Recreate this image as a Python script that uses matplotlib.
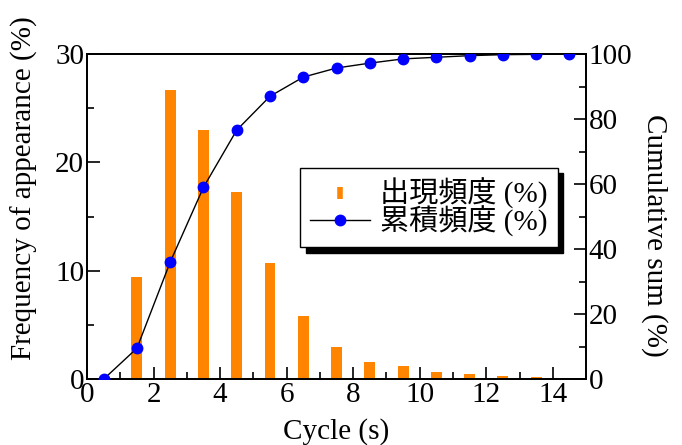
import matplotlib.pyplot as plt
from matplotlib.lines import Line2D
from matplotlib.ticker import MultipleLocator

# data
cycle = [0.5, 1.5, 2.5, 3.5, 4.5, 5.5, 6.5, 7.5, 8.5, 9.5, 10.5, 11.5, 12.5, 13.5, 14.5]
freq = [0.0, 9.4, 26.7, 23.0, 17.3, 10.7, 5.8, 2.95, 1.57, 1.2, 0.65, 0.5, 0.33, 0.2, 0.15]
cumsum = [0.0, 9.5, 36.0, 59.0, 76.6, 87.0, 92.9, 95.7, 97.2, 98.5, 99.0, 99.5, 99.8, 99.9, 100.0]

plt.rcParams["font.family"] = ["Liberation Serif", "Noto Sans CJK JP"]

orange = "#ff8400"
blue = "#0000ff"
fs = 21

fig = plt.figure(figsize=(6.82, 4.45), dpi=100)
ax = fig.add_axes([0.1276, 0.148, 0.7317, 0.7306])
ax2 = ax.twinx()

ax.bar(cycle[1:], freq[1:], width=0.33, color=orange, zorder=2)
ax2.plot(cycle, cumsum, color="k", lw=1, marker="o", ms=7.5,
         mfc=blue, mec=blue, zorder=3)

ax.set_xlim(0, 15)
ax.set_ylim(0, 30)
ax2.set_ylim(0, 100)

ax.xaxis.set_major_locator(MultipleLocator(2))
ax.xaxis.set_minor_locator(MultipleLocator(1))
ax.yaxis.set_major_locator(MultipleLocator(10))
ax.yaxis.set_minor_locator(MultipleLocator(5))
ax2.yaxis.set_major_locator(MultipleLocator(20))
ax2.yaxis.set_minor_locator(MultipleLocator(10))

for a in (ax, ax2):
    a.tick_params(which="both", direction="in", labelsize=fs, width=1.2, pad=2)
    a.tick_params(which="major", length=9)
    a.tick_params(which="minor", length=5)
    for s in a.spines.values():
        s.set_linewidth(1.3)
ax.tick_params(top=False, right=False, which="both")
ax2.tick_params(which="both", right=True, left=False)

ax.set_xlabel("Cycle (s)", fontsize=fs, labelpad=7)
ax.set_ylabel("Frequency of appearance (%)", fontsize=fs)
ax.yaxis.set_label_coords(-0.098, 0.588)
ax2.set_ylabel("Cumulative sum (%)", fontsize=fs, rotation=270, va="bottom")
ax2.yaxis.set_label_coords(1.11, 0.443)

handles = [
    Line2D([], [], ls="none", marker="|", ms=9, mew=4, color=orange),
    Line2D([], [], color="k", lw=1, marker="o", ms=7.5, mfc=blue, mec=blue),
]
labels = ["出現頻度 (%)", "累積頻度 (%)"]
leg = ax2.legend(handles, labels, loc="upper left", bbox_to_anchor=(0.427, 0.65),
                 fontsize=fs, frameon=True, fancybox=False, edgecolor="k",
                 framealpha=1, shadow={"color": "black", "alpha": 1, "ox": 4, "oy": -4},
                 handlelength=2.05, handletextpad=0.34, labelspacing=-0.12,
                 borderpad=0.35, borderaxespad=0)
leg.get_frame().set_linewidth(1.0)

fig.savefig("out.png", dpi=100)
